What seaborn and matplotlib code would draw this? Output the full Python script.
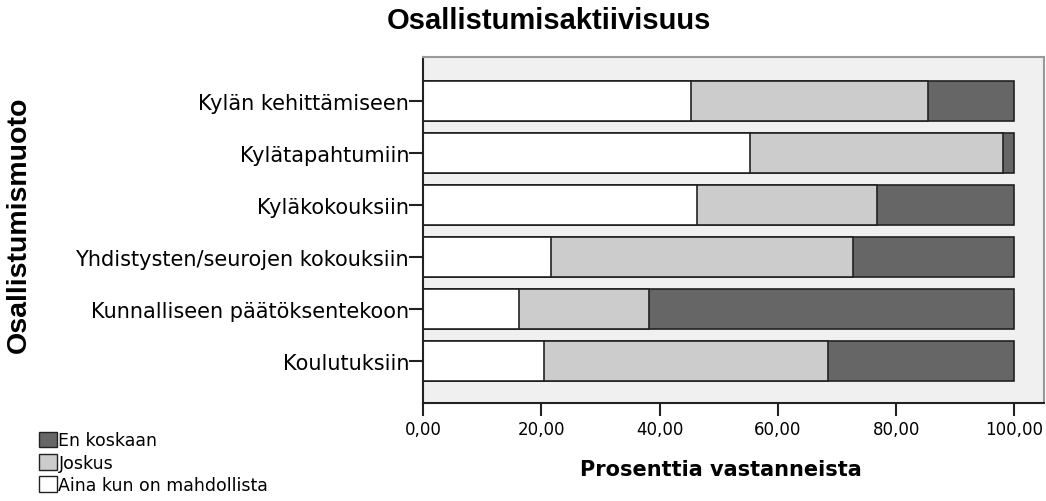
import matplotlib
matplotlib.use("Agg")
import matplotlib.pyplot as plt
from matplotlib.patches import Patch
from matplotlib.ticker import FuncFormatter
import seaborn as sns
import pandas as pd

# data (percent of respondents)
muodot = ["Kylän kehittämiseen", "Kylätapahtumiin", "Kyläkokouksiin",
          "Yhdistysten/seurojen kokouksiin", "Kunnalliseen päätöksentekoon",
          "Koulutuksiin"]
aina = [45.3, 55.3, 46.4, 21.7, 16.2, 20.4]
joskus = [40.1, 42.7, 30.3, 51.0, 22.0, 48.1]
en_koskaan = [14.6, 2.0, 23.3, 27.3, 61.8, 31.5]
x_ticks = [0, 20, 40, 60, 80, 100]

df = pd.DataFrame({"muoto": muodot, "aina": aina, "joskus": joskus, "en": en_koskaan})
df["c1"] = df["aina"]
df["c2"] = df["aina"] + df["joskus"]
df["c3"] = df["c2"] + df["en"]

sns.set_style("white")
plt.rcParams["font.family"] = ["DejaVu Sans"]
for k in ["text.color", "axes.labelcolor", "xtick.color", "ytick.color"]:
    plt.rcParams[k] = "black"

fig = plt.figure(figsize=(10.46, 5.02), dpi=100)
ax = fig.add_axes([0.4044, 0.1952, 0.5936, 0.6893])
ax.set_facecolor("#f0f0f0")

# stacked bars: draw cumulative totals, biggest first
for col, colour in [("c3", "#666666"), ("c2", "#cccccc"), ("c1", "#ffffff")]:
    sns.barplot(data=df, x=col, y="muoto", order=muodot, orient="h", color=colour,
                width=0.77, edgecolor="#222222", linewidth=1.2, saturation=1, ax=ax)

ax.set_xlim(0, 105)
ax.set_ylim(5.8, -0.85)
ax.set_xticks(x_ticks)
ax.xaxis.set_major_formatter(FuncFormatter(lambda v, p: f"{v:.2f}".replace(".", ",")))
ax.tick_params(axis="y", direction="out", length=10, width=1.5, color="#222222",
               labelsize=15, pad=0, left=True)
ax.tick_params(axis="x", direction="out", length=9, width=1.5, color="#222222",
               labelsize=12, pad=3, bottom=True)
ax.set_xlabel("")
ax.set_ylabel("")
for s in ["left", "bottom"]:
    ax.spines[s].set_color("#222222")
    ax.spines[s].set_linewidth(1.5)
for s in ["top", "right"]:
    ax.spines[s].set_color("#999999")
    ax.spines[s].set_linewidth(1.5)

fig.text(0.525, 0.958, "Osallistumisaktiivisuus", ha="center", va="center",
         fontsize=21, fontweight="bold", family="Liberation Sans")
fig.text(0.689, 0.064, "Prosenttia vastanneista", ha="center", va="center",
         fontsize=15, fontweight="bold")
fig.text(0.018, 0.553, "Osallistumismuoto", ha="center", va="center", rotation=90,
         fontsize=20.5, fontweight="bold", family="Liberation Sans")

handles = [Patch(facecolor="#666666", edgecolor="#222222", label="En koskaan"),
           Patch(facecolor="#cccccc", edgecolor="#222222", label="Joskus"),
           Patch(facecolor="#ffffff", edgecolor="#222222", label="Aina kun on mahdollista")]
fig.legend(handles=handles, loc="lower left", bbox_to_anchor=(0.031, 0.0),
           frameon=False, fontsize=12.5, handlelength=1.0, handleheight=1.0,
           handletextpad=0.1, labelspacing=0.25, borderaxespad=0)

fig.savefig("out.png", dpi=100)
